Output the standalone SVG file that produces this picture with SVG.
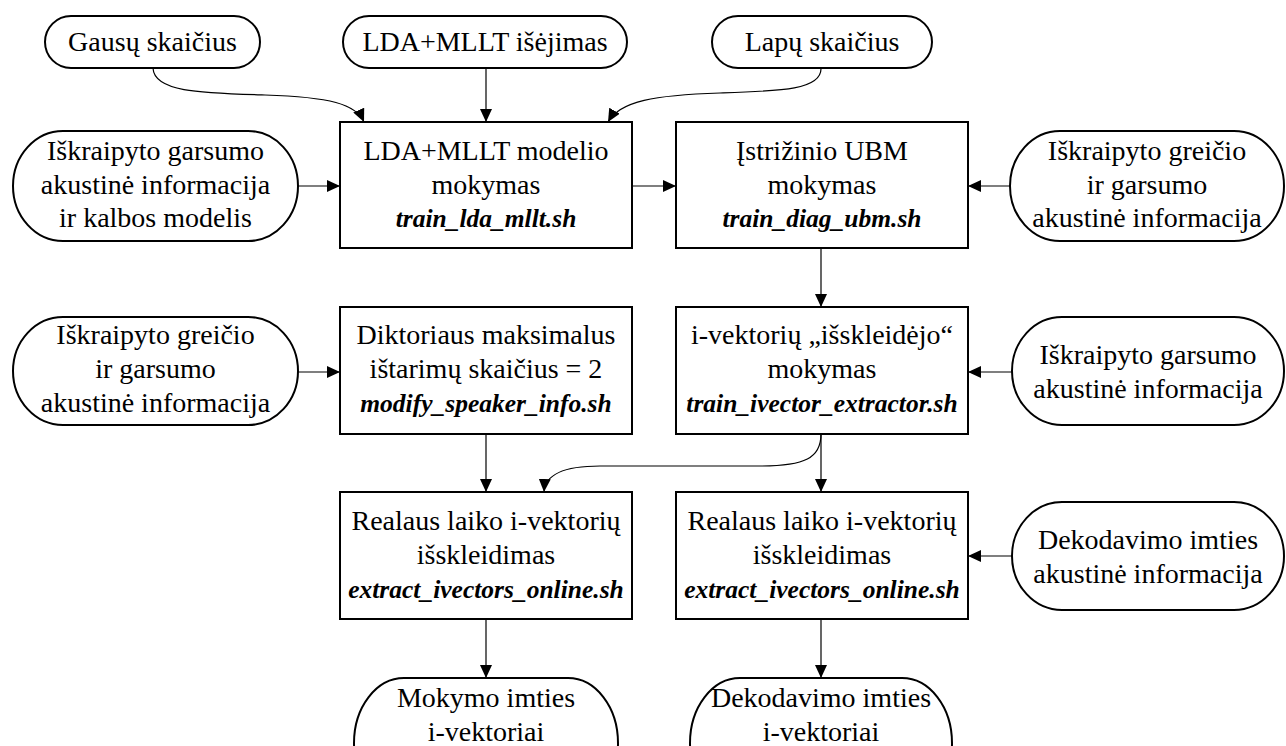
<svg xmlns="http://www.w3.org/2000/svg" width="1286" height="746" viewBox="0 0 1286 746">
  <style>
    .shape { fill: #ffffff; stroke: #000000; stroke-width: 2; }
    .edge { fill: none; stroke: #000000; stroke-width: 1.2; marker-end: url(#arrow); }
    text { font-family: "Liberation Serif", "Times New Roman", serif; font-size: 28px; fill: #000000; text-anchor: middle; }
    .code { font-weight: bold; font-style: italic; font-size: 25.5px; }
  </style>
  <defs>
    <marker id="arrow" markerUnits="userSpaceOnUse" markerWidth="14" markerHeight="12" refX="13" refY="6" orient="auto">
      <path d="M0,0 L13,6 L0,12 z" fill="#000000"/>
    </marker>
  </defs>
  <rect width="1286" height="746" fill="#ffffff"/>

  <!-- connectors -->
  <g id="connectors">
    <path class="edge" d="M153,68 C154,92 200,93 265,95 C330,97 356,104 364,122"/>
    <path class="edge" d="M486,68 L486,122"/>
    <path class="edge" d="M821,68 C822,90 780,91 720,93 C655,95 620,101 608,122"/>
    <path class="edge" d="M298,186 L340,186"/>
    <path class="edge" d="M632,186 L676,186"/>
    <path class="edge" d="M1010,186 L968,186"/>
    <path class="edge" d="M821,248 L821,307"/>
    <path class="edge" d="M298,372 L340,372"/>
    <path class="edge" d="M1012,372 L968,372"/>
    <path class="edge" d="M486,434 L486,492"/>
    <path class="edge" d="M821,434 L821,492"/>
    <path class="edge" d="M821,434 C821,458 805,466 760,466 L600,466 C562,466 545,475 544,492"/>
    <path class="edge" d="M1012,556 L968,556"/>
    <path class="edge" d="M486,619 L486,678"/>
    <path class="edge" d="M821,619 L821,678"/>
  </g>

  <!-- top inputs -->
  <g id="gausu-skaicius">
    <rect class="shape" x="45" y="16" width="215" height="52" rx="26" ry="26"/>
    <text x="152.5" y="51">Gausų skaičius</text>
  </g>
  <g id="lda-mllt-isejimas">
    <rect class="shape" x="343" y="16" width="284" height="52" rx="26" ry="26"/>
    <text x="485" y="51">LDA+MLLT išėjimas</text>
  </g>
  <g id="lapu-skaicius">
    <rect class="shape" x="712" y="16" width="220" height="52" rx="26" ry="26"/>
    <text x="822" y="51">Lapų skaičius</text>
  </g>

  <!-- row 2 -->
  <g id="garsumo-info-lm">
    <rect class="shape" x="13" y="131" width="285" height="110" rx="50" ry="55"/>
    <text x="155.5" y="160">Iškraipyto garsumo</text>
    <text x="155.5" y="194">akustinė informacija</text>
    <text x="155.5" y="227">ir kalbos modelis</text>
  </g>
  <g id="train-lda-mllt">
    <rect class="shape" x="340" y="122" width="292" height="126"/>
    <text x="486" y="160">LDA+MLLT modelio</text>
    <text x="486" y="194">mokymas</text>
    <text class="code" x="486" y="227">train_lda_mllt.sh</text>
  </g>
  <g id="train-diag-ubm">
    <rect class="shape" x="676" y="122" width="292" height="126"/>
    <text x="822" y="160">Įstrižinio UBM</text>
    <text x="822" y="194">mokymas</text>
    <text class="code" x="822" y="227">train_diag_ubm.sh</text>
  </g>
  <g id="greicio-garsumo-info-1">
    <rect class="shape" x="1010" y="131" width="274" height="110" rx="50" ry="55"/>
    <text x="1147" y="160">Iškraipyto greičio</text>
    <text x="1147" y="194">ir garsumo</text>
    <text x="1147" y="227">akustinė informacija</text>
  </g>

  <!-- row 3 -->
  <g id="greicio-garsumo-info-2">
    <rect class="shape" x="13" y="317" width="285" height="108" rx="50" ry="54"/>
    <text x="155.5" y="344">Iškraipyto greičio</text>
    <text x="155.5" y="378">ir garsumo</text>
    <text x="155.5" y="412">akustinė informacija</text>
  </g>
  <g id="modify-speaker-info">
    <rect class="shape" x="340" y="307" width="292" height="127"/>
    <text x="486" y="344">Diktoriaus maksimalus</text>
    <text x="486" y="378">ištarimų skaičius = 2</text>
    <text class="code" x="486" y="412">modify_speaker_info.sh</text>
  </g>
  <g id="train-ivector-extractor">
    <rect class="shape" x="676" y="307" width="292" height="127"/>
    <text x="822" y="344">i-vektorių „išskleidėjo“</text>
    <text x="822" y="378">mokymas</text>
    <text class="code" x="822" y="412">train_ivector_extractor.sh</text>
  </g>
  <g id="garsumo-info">
    <rect class="shape" x="1012" y="317" width="272" height="108" rx="50" ry="54"/>
    <text x="1148" y="364">Iškraipyto garsumo</text>
    <text x="1148" y="398">akustinė informacija</text>
  </g>

  <!-- row 4 -->
  <g id="extract-online-train">
    <rect class="shape" x="340" y="492" width="292" height="127"/>
    <text x="486" y="530">Realaus laiko i-vektorių</text>
    <text x="486" y="564">išskleidimas</text>
    <text class="code" x="486" y="598">extract_ivectors_online.sh</text>
  </g>
  <g id="extract-online-decode">
    <rect class="shape" x="676" y="492" width="292" height="127"/>
    <text x="822" y="530">Realaus laiko i-vektorių</text>
    <text x="822" y="564">išskleidimas</text>
    <text class="code" x="822" y="598">extract_ivectors_online.sh</text>
  </g>
  <g id="dekodavimo-info">
    <rect class="shape" x="1012" y="502" width="272" height="108" rx="50" ry="54"/>
    <text x="1148" y="549">Dekodavimo imties</text>
    <text x="1148" y="583">akustinė informacija</text>
  </g>

  <!-- outputs -->
  <g id="mokymo-ivektoriai">
    <rect class="shape" x="354" y="678" width="264" height="130" rx="50" ry="65"/>
    <text x="486" y="707">Mokymo imties</text>
    <text x="486" y="741">i-vektoriai</text>
  </g>
  <g id="dekodavimo-ivektoriai">
    <rect class="shape" x="690" y="678" width="262" height="130" rx="50" ry="65"/>
    <text x="821" y="707">Dekodavimo imties</text>
    <text x="821" y="741">i-vektoriai</text>
  </g>
</svg>
